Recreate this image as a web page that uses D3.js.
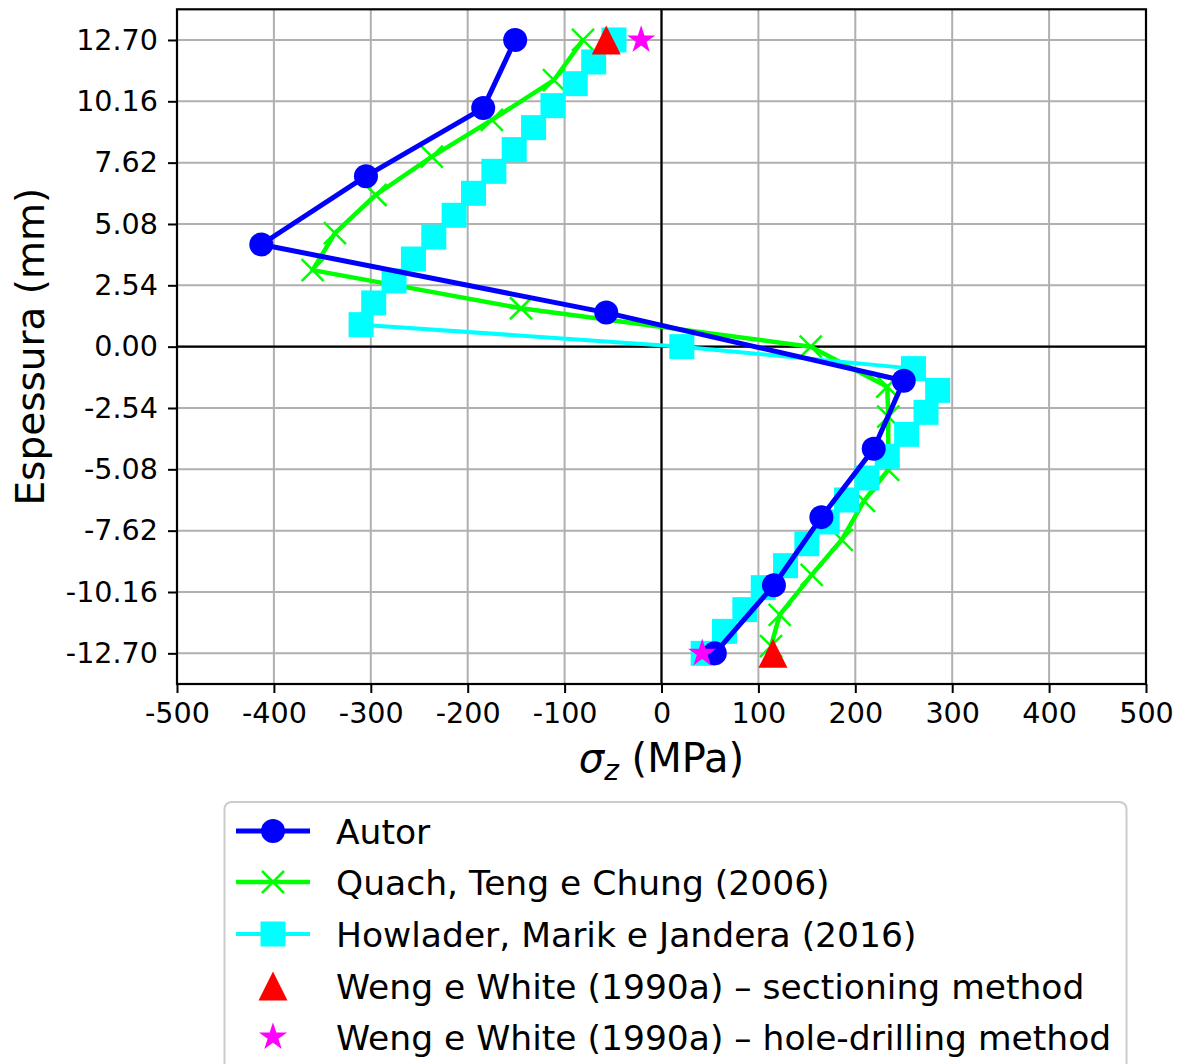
<!DOCTYPE html>
<html>
<head>
<meta charset="utf-8">
<script src="https://cdn.jsdelivr.net/npm/d3@7"></script>
<style>
  html, body { margin: 0; padding: 0; background: #fff; }
  svg { display: block; font-family: "DejaVu Sans", sans-serif; }
</style>
</head>
<body>
<svg id="chart" width="1186" height="1064"></svg>
<script>
// ---------------- data ----------------
const xTicks = [-500, -400, -300, -200, -100, 0, 100, 200, 300, 400, 500];
const yTicks = [12.70, 10.16, 7.62, 5.08, 2.54, 0.00, -2.54, -5.08, -7.62, -10.16, -12.70];

const autorX = [-151, -184, -305, -413, -57, 250, 219, 165, 116, 55];
const autorY = [12.70, 9.88, 7.06, 4.23, 1.41, -1.41, -4.23, -7.06, -9.88, -12.70];

const quachX = [-81, -111, -175, -237, -295, -337, -360, -145, 154, 233, 234, 234, 209, 186, 155, 122, 113];
const quachY = [12.70, 11.04, 9.39, 7.87, 6.28, 4.70, 3.17, 1.59, 0.00, -1.66, -2.90, -5.10, -6.39, -8.00, -9.45, -11.11, -12.40];

const howladerX = [-49, -70, -89, -112, -132, -152, -173, -194, -214, -235, -256, -276, -297, -310, 21,
                   260, 285, 273, 253, 233, 212, 191, 171, 150, 128, 105, 86, 65, 43];
const howladerY = [12.70, 11.79, 10.89, 9.98, 9.07, 8.16, 7.26, 6.35, 5.44, 4.54, 3.63, 2.72, 1.81, 0.91, 0.00,
                   -0.91, -1.81, -2.72, -3.63, -4.54, -5.44, -6.35, -7.26, -8.16, -9.07, -9.98, -10.89, -11.79, -12.70];

const sectionX = [-57, 115];
const sectionY = [12.70, -12.70];

const holeX = [-21, 42];
const holeY = [12.70, -12.70];

const seriesNames = [
  "Autor",
  "Quach, Teng e Chung (2006)",
  "Howlader, Marik e Jandera (2016)",
  "Weng e White (1990a) \u2013 sectioning method",
  "Weng e White (1990a) \u2013 hole-drilling method"
];

// ---------------- layout ----------------
const svg = d3.select("#chart");
const L = 177, R = 1146, T = 9.3, B = 684;
const x = d3.scaleLinear().domain([-500, 500]).range([L, R]);
const y = d3.scaleLinear().domain([-13.97, 13.97]).range([B, T]);

const zip = (xs, ys) => xs.map((v, i) => [v, ys[i]]);

svg.append("rect").attr("width", 1186).attr("height", 1064).attr("fill", "#fff");

// grid
const grid = svg.append("g");
grid.selectAll("line.gx").data(xTicks).join("line")
  .attr("x1", d => x(d)).attr("x2", d => x(d)).attr("y1", T).attr("y2", B)
  .attr("stroke", "#b0b0b0").attr("stroke-width", 2);
grid.selectAll("line.gy").data(yTicks).join("line")
  .attr("y1", d => y(d)).attr("y2", d => y(d)).attr("x1", L).attr("x2", R)
  .attr("stroke", "#b0b0b0").attr("stroke-width", 2);

// zero lines
svg.append("line").attr("x1", x(0)).attr("x2", x(0)).attr("y1", T).attr("y2", B)
  .attr("stroke", "#000").attr("stroke-width", 2.2);
svg.append("line").attr("x1", L).attr("x2", R).attr("y1", y(0)).attr("y2", y(0))
  .attr("stroke", "#000").attr("stroke-width", 2.2);

// marker shapes
function triPath(h) { return `M0,${-h}L${-h},${h}L${h},${h}Z`; }
function starPath(r) {
  const ri = r * 0.381966; let p = "";
  for (let i = 0; i < 10; i++) {
    const rr = i % 2 === 0 ? r : ri;
    const a = -Math.PI / 2 + i * Math.PI / 5;
    p += (i === 0 ? "M" : "L") + (rr * Math.cos(a)).toFixed(2) + "," + (rr * Math.sin(a)).toFixed(2);
  }
  return p + "Z";
}
function drawMarker(g, kind) {
  if (kind === "circle") g.append("circle").attr("r", 12).attr("fill", "#0000ff");
  else if (kind === "x") {
    g.append("path").attr("d", "M-11,-11L11,11M-11,11L11,-11")
      .attr("stroke", "#00ff00").attr("stroke-width", 2.5).attr("fill", "none");
  } else if (kind === "square") g.append("rect").attr("x", -12.5).attr("y", -12.5)
      .attr("width", 25).attr("height", 25).attr("fill", "#00ffff");
  else if (kind === "tri") g.append("path").attr("d", triPath(14.5)).attr("fill", "#ff0000");
  else if (kind === "star") g.append("path").attr("d", starPath(14.8)).attr("fill", "#ff00ff");
}

const line = d3.line().x(d => x(d[0])).y(d => y(d[1]));

function drawSeries(data, color, lw, kind) {
  const g = svg.append("g");
  if (lw > 0) g.append("path").datum(data).attr("d", line).attr("fill", "none")
    .attr("stroke", color).attr("stroke-width", lw).attr("stroke-linejoin", "round");
  g.selectAll("g.m").data(data).join("g")
    .attr("transform", d => `translate(${x(d[0])},${y(d[1])})`)
    .each(function () { drawMarker(d3.select(this), kind); });
}

drawSeries(zip(quachX, quachY), "#00ff00", 4.5, "x");
drawSeries(zip(howladerX, howladerY), "#00ffff", 4, "square");
drawSeries(zip(autorX, autorY), "#0000ff", 5, "circle");
drawSeries(zip(sectionX, sectionY), "#ff0000", 0, "tri");
drawSeries(zip(holeX, holeY), "#ff00ff", 0, "star");

// axes
const fmtY = d => d.toFixed(2).replace("\u2212", "-");
const xAxis = d3.axisBottom(x).tickValues(xTicks).tickSize(9).tickPadding(10).tickFormat(d => String(d));
const yAxis = d3.axisLeft(y).tickValues(yTicks).tickSize(9).tickPadding(10).tickFormat(fmtY);
const gx = svg.append("g").attr("transform", `translate(0,${B})`).call(xAxis);
const gy = svg.append("g").attr("transform", `translate(${L},0)`).call(yAxis);
[gx, gy].forEach(g => {
  g.select(".domain").remove();
  g.selectAll(".tick line").attr("stroke", "#000").attr("stroke-width", 2);
  g.selectAll(".tick text").attr("font-family", "DejaVu Sans").attr("font-size", 28.6).attr("fill", "#000");
});

// frame
svg.append("rect").attr("x", L).attr("y", T).attr("width", R - L).attr("height", B - T)
  .attr("fill", "none").attr("stroke", "#000").attr("stroke-width", 2.2);

// axis labels
const xl = svg.append("text").attr("x", (L + R) / 2).attr("y", 772).attr("text-anchor", "middle")
  .attr("font-size", 40).attr("fill", "#000");
xl.append("tspan").attr("font-style", "italic").text("\u03c3");
xl.append("tspan").attr("font-style", "italic").attr("font-size", 28).attr("dy", 8).text("z");
xl.append("tspan").attr("dy", -8).text(" (MPa)");

svg.append("text").attr("transform", `translate(44,${y(0)}) rotate(-90)`)
  .attr("text-anchor", "middle").attr("font-size", 39).attr("fill", "#000").text("Espessura (mm)");

// legend
const lg = svg.append("g");
lg.append("rect").attr("x", 224.5).attr("y", 802).attr("width", 902).attr("height", 300).attr("rx", 7)
  .attr("fill", "#fff").attr("stroke", "#cccccc").attr("stroke-width", 2);
const legendItems = [
  { name: seriesNames[0], color: "#0000ff", lw: 5, kind: "circle" },
  { name: seriesNames[1], color: "#00ff00", lw: 4.5, kind: "x" },
  { name: seriesNames[2], color: "#00ffff", lw: 4, kind: "square" },
  { name: seriesNames[3], color: "#ff0000", lw: 0, kind: "tri" },
  { name: seriesNames[4], color: "#ff00ff", lw: 0, kind: "star" }
];
const rowY = [831, 882, 934, 986, 1037];
legendItems.forEach((it, i) => {
  const g = lg.append("g").attr("transform", `translate(0,${rowY[i]})`);
  if (it.lw > 0) g.append("line").attr("x1", 236).attr("x2", 310).attr("y1", 0).attr("y2", 0)
    .attr("stroke", it.color).attr("stroke-width", it.lw);
  const m = g.append("g").attr("transform", "translate(273,0)");
  drawMarker(m, it.kind);
  g.append("text").attr("x", 336).attr("y", 12.5).attr("font-size", 34.5).attr("fill", "#000").text(it.name);
});
</script>
</body>
</html>
